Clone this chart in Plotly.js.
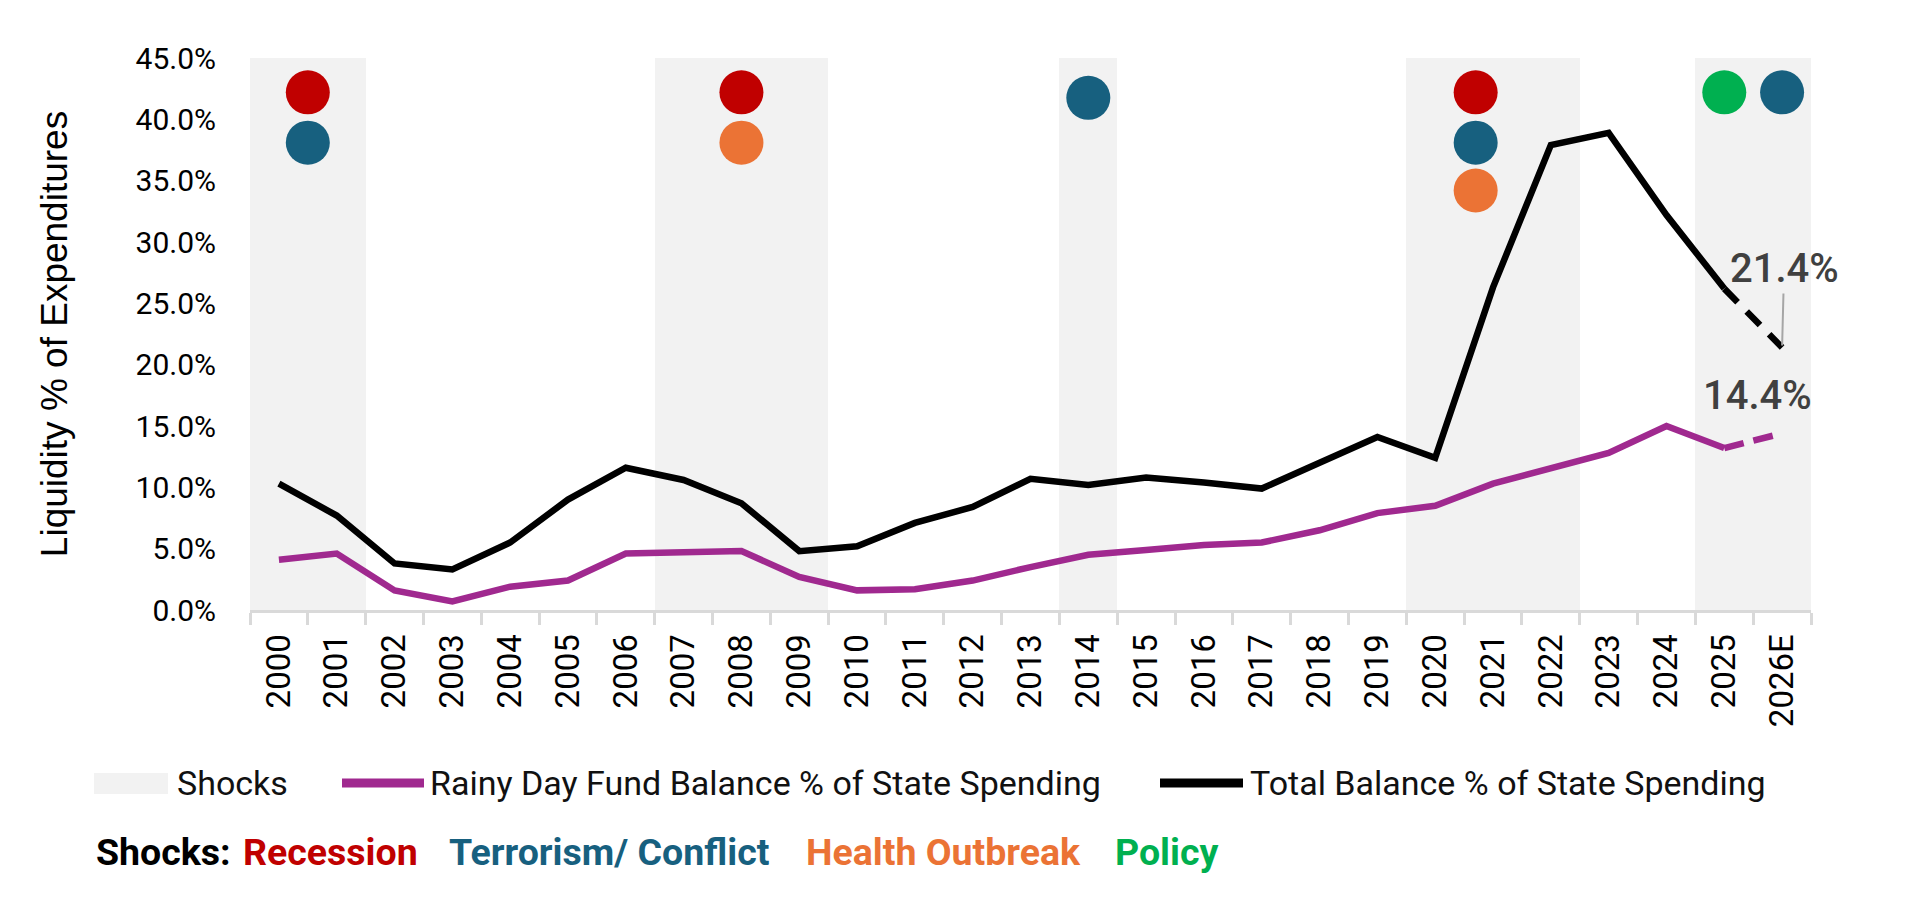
<!DOCTYPE html>
<html>
<head>
<meta charset="utf-8">
<script src="https://cdn.plot.ly/plotly-3.0.1.min.js"></script>
<style>
  html, body { margin: 0; padding: 0; background: #fff; }
  #chart { width: 1918px; height: 900px; }
</style>
</head>
<body>
<div id="chart"></div>
<script>
// years on the x axis (last one is an estimate)
const years = ['2000', '2001', '2002', '2003', '2004', '2005', '2006', '2007', '2008', '2009',
  '2010', '2011', '2012', '2013', '2014', '2015', '2016', '2017', '2018', '2019',
  '2020', '2021', '2022', '2023', '2024', '2025', '2026E'];

// liquidity as % of expenditures
const totalBalance = [10.3, 7.7, 3.8, 3.3, 5.5, 9.0, 11.6, 10.6, 8.7, 4.8,
  5.2, 7.1, 8.4, 10.7, 10.2, 10.8, 10.4, 9.9, 12.0, 14.1,
  12.4, 26.3, 37.9, 38.9, 32.2, 26.2, 21.4];
const rainyDay = [4.1, 4.6, 1.6, 0.7, 1.9, 2.4, 4.6, 4.7, 4.8, 2.7,
  1.6, 1.7, 2.4, 3.5, 4.5, 4.9, 5.3, 5.5, 6.5, 7.9,
  8.5, 10.3, 11.6, 12.8, 15.0, 13.2, 14.4];

// shaded shock years
const shockYears = ['2000', '2001', '2007', '2008', '2009', '2014', '2020', '2021', '2022', '2025', '2026E'];
const bandTop = 45;

// shock type dots, x = position on the year index (0 = 2000)
const recessionX = [0.5, 8, 20.7];
const recessionY = [42.2, 42.2, 42.2];
const conflictX = [0.5, 14, 20.7, 26];
const conflictY = [38.1, 41.75, 38.1, 42.2];
const healthX = [8, 20.7];
const healthY = [38.1, 34.2];
const policyX = [25];
const policyY = [42.2];

const shockTypes = ['Recession', 'Terrorism/ Conflict', 'Health Outbreak', 'Policy'];
const shockColors = ['#C00000', '#17607F', '#EB7335', '#00B050'];
const legendLabels = ['Shocks', 'Rainy Day Fund Balance % of State Spending', 'Total Balance % of State Spending'];

const purple = '#A0298F';
const band = '#F2F2F2';
const axisGray = '#D9D9D9';

// page geometry
const W = 1918, H = 900;
const L = 250, R = 107, T = 58, B = 290;
const plotW = W - L - R, plotH = H - T - B;
function px(x) { return (x - L) / plotW; }
function py(y) { return (H - B - y) / plotH; }

const last = years.length - 1;

let bandY = years.map(y => shockYears.includes(y) ? bandTop : null);

let traces = [
  { // shock bands
    x: years, y: bandY, type: 'bar', width: 1,
    marker: { color: band, line: { width: 0 } },
    hoverinfo: 'skip', showlegend: false
  },
  {
    x: years.slice(0, last), y: rainyDay.slice(0, last),
    type: 'scatter', mode: 'lines', name: legendLabels[1],
    line: { color: purple, width: 6.5 }
  },
  { // estimate part, dashed
    x: years.slice(last - 1), y: rainyDay.slice(last - 1),
    type: 'scatter', mode: 'lines', showlegend: false,
    line: { color: purple, width: 6.5, dash: '20px,10px' }
  },
  {
    x: years.slice(0, last), y: totalBalance.slice(0, last),
    type: 'scatter', mode: 'lines', name: legendLabels[2],
    line: { color: '#000000', width: 6.5 }
  },
  {
    x: years.slice(last - 1), y: totalBalance.slice(last - 1),
    type: 'scatter', mode: 'lines', showlegend: false,
    line: { color: '#000000', width: 6.5, dash: '19px,13px' }
  }
];

const dotX = [recessionX, conflictX, healthX, policyX];
const dotY = [recessionY, conflictY, healthY, policyY];
shockTypes.forEach((t, i) => {
  traces.push({
    x: dotX[i], y: dotY[i], xaxis: 'x2', yaxis: 'y',
    type: 'scatter', mode: 'markers', name: t, showlegend: false,
    marker: { size: 44, color: shockColors[i], line: { width: 0 } },
    hoverinfo: 'name'
  });
});

// custom legend row
const legY = 783;
let shapes = [
  { type: 'rect', xref: 'paper', yref: 'paper', x0: px(94), x1: px(168), y0: py(773), y1: py(794),
    fillcolor: band, line: { width: 0 } },
  { type: 'line', xref: 'paper', yref: 'paper', x0: px(342), x1: px(424), y0: py(legY), y1: py(legY),
    line: { color: purple, width: 9 } },
  { type: 'line', xref: 'paper', yref: 'paper', x0: px(1160), x1: px(1243), y0: py(legY), y1: py(legY),
    line: { color: '#000000', width: 9 } }
];

const legFont = { family: 'Roboto, sans-serif', size: 34, color: '#111111' };
const legTextX = [175, 428, 1248];
let annotations = legendLabels.map((t, i) => ({
  xref: 'paper', yref: 'paper', x: px(legTextX[i]), y: py(legY),
  xanchor: 'left', yanchor: 'middle', text: t, showarrow: false, font: legFont
}));

// "Shocks:" key
const keyX = [94, 241, 447, 804, 1113];
const keyText = ['Shocks:'].concat(shockTypes);
const keyColor = ['#000000'].concat(shockColors);
keyText.forEach((t, i) => {
  annotations.push({
    xref: 'paper', yref: 'paper', x: px(keyX[i]), y: py(852),
    xanchor: 'left', yanchor: 'middle', text: '<b>' + t + '</b>', showarrow: false,
    font: { family: 'Roboto, sans-serif', size: 37.5, color: keyColor[i] }
  });
});

// end value labels
const endFont = { family: 'Roboto, sans-serif', size: 40, color: '#404040', weight: 500 };
annotations.push({
  x: years[last], y: totalBalance[last], xref: 'x', yref: 'y',
  text: totalBalance[last].toFixed(1) + '%',
  showarrow: true, arrowhead: 0, arrowwidth: 2, arrowcolor: '#A6A6A6',
  ax: 2, ay: -79, standoff: 2, font: endFont
});
annotations.push({
  x: years[last], y: rainyDay[last], xref: 'x', yref: 'y',
  text: rainyDay[last].toFixed(1) + '%', showarrow: false,
  xshift: -25, yshift: 38, font: endFont
});

let layout = {
  width: W, height: H,
  margin: { l: L, r: R, t: T, b: B },
  paper_bgcolor: '#ffffff', plot_bgcolor: '#ffffff',
  showlegend: false,
  bargap: 0,
  xaxis: {
    type: 'category', range: [-0.5, years.length - 0.5],
    tickson: 'boundaries', ticks: 'outside', ticklen: 12, tickwidth: 3, tickcolor: axisGray,
    showline: true, linecolor: axisGray, linewidth: 3,
    showgrid: false, zeroline: false, tickangle: -90, ticklabelstandoff: 8,
    tickfont: { family: '"Liberation Sans Narrow", "Arial Narrow", Roboto, sans-serif', size: 33, color: '#000000' }
  },
  xaxis2: {
    type: 'linear', overlaying: 'x', range: [-0.5, years.length - 0.5], visible: false
  },
  yaxis: {
    range: [0, 45], dtick: 5, tickformat: '.1f', ticksuffix: '%',
    showgrid: false, zeroline: false, showline: false, ticks: '',
    ticklabelstandoff: 33,
    tickfont: { family: 'Roboto, sans-serif', size: 30, color: '#000000' },
    title: {
      text: 'Liquidity % of Expenditures', standoff: 56,
      font: { family: '"Liberation Sans", Arial, sans-serif', size: 37, color: '#000000' }
    }
  },
  shapes: shapes,
  annotations: annotations
};

Plotly.newPlot('chart', traces, layout, { displayModeBar: false, staticPlot: true });
</script>
</body>
</html>
